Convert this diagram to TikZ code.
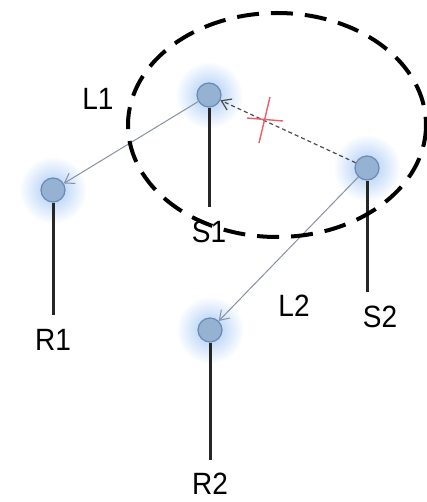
\documentclass[tikz,border=0pt]{standalone}
\usepackage{fontspec}
\setmainfont{Liberation Sans}
\usetikzlibrary{arrows.meta}
\definecolor{ballfill}{RGB}{150,178,210}
\definecolor{balledge}{RGB}{105,138,180}
\definecolor{glow}{RGB}{165,200,245}
\definecolor{linkgray}{RGB}{135,145,160}
\definecolor{crossred}{RGB}{235,95,105}
\tikzset{
  ball/.style={circle, fill=ballfill, draw=balledge, line width=1.2pt, minimum size=24pt, inner sep=0pt},
  stem/.style={line width=3pt, black!85},
  lbl/.style={font=\fontsize{28}{28}\selectfont, inner sep=0pt, yscale=1.1, transform shape},
  link/.style={draw=linkgray, line width=1pt, -{Straight Barb[length=9pt,width=12pt]}},
  blocked/.style={draw=black!70, line width=1.2pt, dash pattern=on 4pt off 3pt, -{Straight Barb[length=9pt,width=12pt]}},
  zone/.style={draw=black, line width=4pt, dash pattern=on 22pt off 12pt},
  cross/.style={draw=crossred, line width=1.4pt}
}
\begin{document}
\begin{tikzpicture}[x=1pt,y=-1pt]
\useasboundingbox (0,0) rectangle (426,502);
% glows
\foreach \p in {(209,95),(367,168),(53,190),(210,330)}{
  \shade[inner color=glow, outer color=white] \p circle (34);
}
% stems
\coordinate (s1b) at (209,207);
\coordinate (s2b) at (367,292);
\coordinate (r1b) at (53,315);
\coordinate (r2b) at (210,460);
\node[ball] (S1) at (209,95) {};
\node[ball] (S2) at (367,168) {};
\node[ball] (R1) at (53,190) {};
\node[ball] (R2) at (210,330) {};
\draw[stem] (S1.south) -- (s1b);
\draw[stem] (S2.south) -- (s2b);
\draw[stem] (R1.south) -- (r1b);
\draw[stem] (R2.south) -- (r2b);
% links
\draw[link] (S1) -- (R1);
\draw[link] (S2) -- (R2);
\draw[blocked] (S2) -- (S1);
% cross
\coordinate (c1) at (270,97);
\coordinate (c2) at (259,143);
\coordinate (c3) at (247,118);
\coordinate (c4) at (283,121);
\draw[cross] (c1) -- (c2);
\draw[cross] (c3) -- (c4);
% labels
\node[lbl] (tS1) at (209,232) {S1};
\node[lbl] (tS2) at (380,317) {S2};
\node[lbl] (tR1) at (53,340) {R1};
\node[lbl] (tR2) at (210,484) {R2};
\node[lbl] (tL1) at (98,99) {L1};
\node[lbl] (tL2) at (294,306) {L2};
% zone
\draw[zone] (277,125) ellipse [x radius=149, y radius=112];
\end{tikzpicture}
\end{document}
